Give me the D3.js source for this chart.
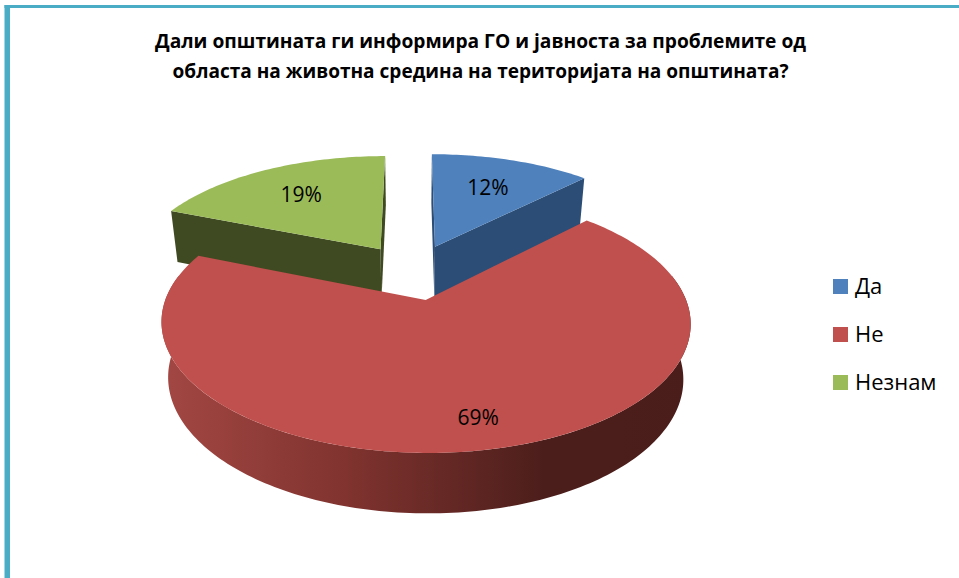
<!DOCTYPE html>
<html>
<head>
<meta charset="utf-8">
<style>
html, body { margin: 0; padding: 0; background: #fff; }
svg { display: block; }
text { font-family: "Open Sans", "Noto Sans", sans-serif; fill: #000; }
</style>
<script src="https://cdnjs.cloudflare.com/ajax/libs/d3/7.8.5/d3.min.js"></script>
</head>
<body>
<div id="chart"></div>
<script>
var titleLines = [
	"Дали општината ги информира ГО и јавноста за проблемите од",
	"областа на животна средина на територијата на општината?"
];
var categories = ["Да", "Не", "Незнам"];
var values = [12.4, 68.7, 18.9]; // labels round them
var colors = ["#4f81bd", "#c0504d", "#9bbb59"];
var wallColors = ["#2c4d75", "#4a1d1b", "#3f4a22"];

var width = 959,
	height = 578,
	EXPLODE = 0.24, // how far each slice is pulled out of the centre, in pie radii
	TILT = 0.17; // perspective strength of the pie plane

// the top and the bottom face of the pie, each one a projected plane
var TOP_FACE = { x0: 413, y0: 271.6, fx: 250, fy: 116 };
var BOTTOM_FACE = { x0: 413, y0: 325, fx: 243.4, fy: 120.5 };

var svg = d3.select("#chart").append("svg")
	.attr("width", width)
	.attr("height", height);

// the teal frame that runs off the page to the right and the bottom
svg.append("rect").attr("x", 4.5).attr("y", 5).attr("width", width).attr("height", 3).style("fill", "#4bacc6");
svg.append("rect").attr("x", 4.5).attr("y", 5).attr("width", 5.5).attr("height", height).style("fill", "#4bacc6");

svg.append("g").selectAll("text")
	.data(titleLines)
	.enter()
	.append("text")
	.attr("x", 480.5)
	.attr("y", function(d, i) { return 48 + i * 30; })
	.attr("textLength", function(d, i) { return i == 0 ? 651 : 616; })
	.attr("lengthAdjust", "spacingAndGlyphs")
	.style("font-size", "19px")
	.style("font-weight", "bold")
	.style("text-anchor", "middle")
	.text(function(d) { return d; });

var slices = d3.pie().sort(null)(values);

// a point of a slice, with angle in radians clockwise from the back of the pie
var project = function(slice, angle, r, face) {
	var mid = (slice.startAngle + slice.endAngle) / 2;
	var x = EXPLODE * Math.sin(mid) + r * Math.sin(angle);
	var z = EXPLODE * Math.cos(mid) + r * Math.cos(angle);
	var w = 1 + TILT * z;
	return [face.x0 + face.fx * x / w, face.y0 - face.fy * z / w];
};

var line = d3.line();

var arc_points = function(slice, from, to, face) {
	var steps = Math.max(2, Math.ceil(Math.abs(to - from) / 0.02));
	return d3.range(steps + 1).map(function(i) {
		return project(slice, from + (to - from) * i / steps, 1, face);
	});
};

// side wall along a straight slice edge, from the tip out to the rim
var radial_wall = function(slice, angle) {
	return line([
		project(slice, angle, 0, TOP_FACE),
		project(slice, angle, 1, TOP_FACE),
		project(slice, angle, 1, BOTTOM_FACE),
		project(slice, angle, 0, BOTTOM_FACE)
	]) + "Z";
};

// side wall along the round edge
var rim_wall = function(slice, from, to) {
	return line(arc_points(slice, from, to, TOP_FACE)
		.concat(arc_points(slice, to, from, BOTTOM_FACE))) + "Z";
};

var top_face = function(slice) {
	return line([project(slice, 0, 0, TOP_FACE)]
		.concat(arc_points(slice, slice.startAngle, slice.endAngle, TOP_FACE))) + "Z";
};

// shading of the round wall of the big slice, dark on the right
var defs = svg.append("defs");
var rimGradient = defs.append("linearGradient")
	.attr("id", "rim")
	.attr("gradientUnits", "userSpaceOnUse")
	.attr("x1", 162).attr("y1", 0)
	.attr("x2", 691).attr("y2", 0);
rimGradient.selectAll("stop")
	.data([[0, "#a34743"], [0.35, "#80332f"], [0.72, "#4c1e1b"], [1, "#4a1d1b"]])
	.enter()
	.append("stop")
	.attr("offset", function(d) { return d[0]; })
	.attr("stop-color", function(d) { return d[1]; });

var pie = svg.append("g").attr("id", "pie");

// back slices first, the big one goes over them
[0, 2].forEach(function(i) {
	var s = slices[i];
	pie.append("path").attr("d", radial_wall(s, s.startAngle)).style("fill", wallColors[i]);
	pie.append("path").attr("d", radial_wall(s, s.endAngle)).style("fill", wallColors[i]);
	pie.append("path").attr("d", top_face(s)).style("fill", colors[i]);
});

var big = slices[1];
pie.append("path")
	.attr("d", rim_wall(big, Math.PI / 2 - 0.2, 3 * Math.PI / 2 + 0.2))
	.style("fill", "url(#rim)");
pie.append("path").attr("d", top_face(big)).style("fill", colors[1]);

// data labels
svg.append("g").selectAll("text")
	.data(slices)
	.enter()
	.append("text")
	.attr("transform", function(d) {
		var mid = (d.startAngle + d.endAngle) / 2;
		var r = d.value > 50 ? 0.82 : 0.66;
		return "translate(" + project(d, mid, r, TOP_FACE) + ")";
	})
	.attr("dy", "0.36em")
	.style("font-size", "21px")
	.style("text-anchor", "middle")
	.text(function(d) { return d3.format(".0f")(d.value) + "%"; });

// legend
var legendY = d3.scalePoint().domain(categories).range([286.5, 382.5]);

var legend = svg.append("g").selectAll("g")
	.data(categories)
	.enter()
	.append("g")
	.attr("transform", function(d) { return "translate(833," + legendY(d) + ")"; });

legend.append("rect")
	.attr("y", -7.5)
	.attr("width", 15)
	.attr("height", 15)
	.style("fill", function(d, i) { return colors[i]; });

legend.append("text")
	.attr("x", 22)
	.attr("dy", "0.36em")
	.style("font-size", "22px")
	.text(function(d) { return d; });
</script>
</body>
</html>
